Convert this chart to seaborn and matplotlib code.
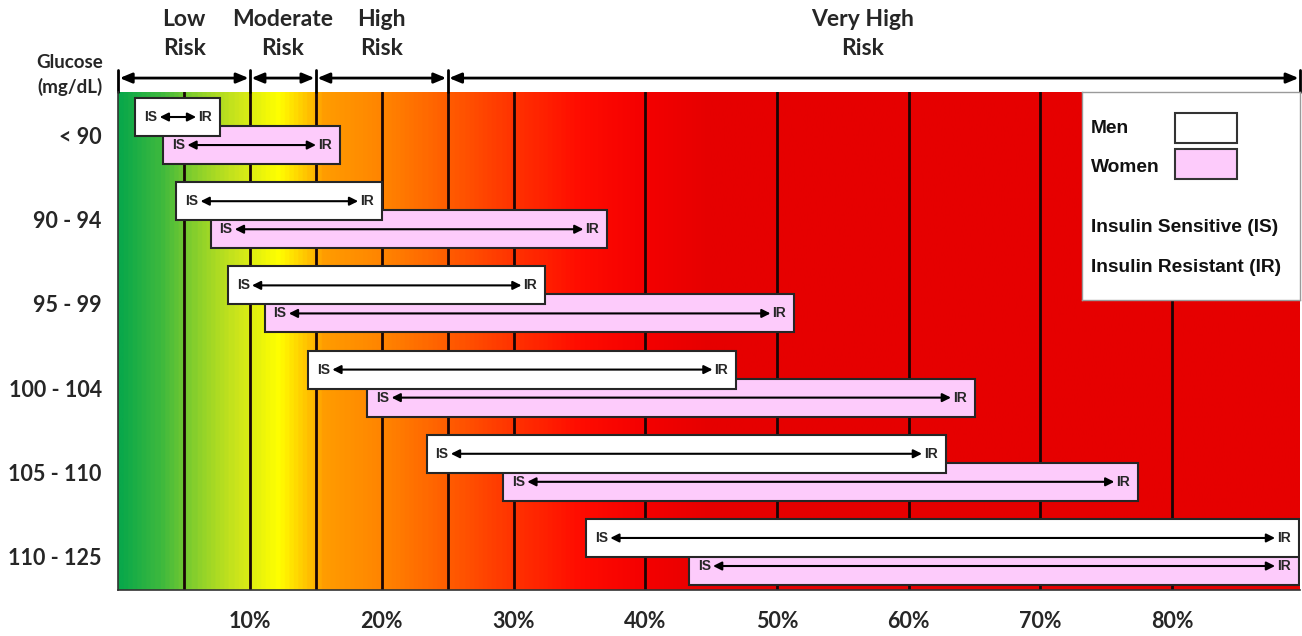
import numpy as np
import pandas as pd
import matplotlib
matplotlib.use("Agg")
import matplotlib.pyplot as plt
import seaborn as sns
from matplotlib.colors import LinearSegmentedColormap
from matplotlib.patches import Rectangle
import matplotlib.transforms as mtransforms

# ---------------- data ----------------
glucose_labels = ["< 90", "90 - 94", "95 - 99", "100 - 104", "105 - 110", "110 - 125"]
men_is = [1.3, 4.4, 8.3, 14.4, 23.4, 35.5]
men_ir = [7.7, 20.0, 32.4, 46.9, 62.8, 89.6]
women_is = [3.4, 7.0, 11.1, 18.9, 29.2, 43.3]
women_ir = [16.8, 37.1, 51.3, 65.0, 77.4, 89.6]

risk_labels = ["Low\nRisk", "Moderate\nRisk", "High\nRisk", "Very High\nRisk"]
risk_bounds = [0, 10, 15, 25, 89.7]
risk_label_x = [5, 12.5, 20, 56.5]

grid_lines = [5, 10, 15, 20, 25, 30, 40, 50, 60, 70, 80]
x_ticks = [10, 20, 30, 40, 50, 60, 70, 80]
x_tick_labels = ["10%", "20%", "30%", "40%", "50%", "60%", "70%", "80%"]

# ---------------- style ----------------
sns.set_theme(style="white")
CAL = ["Lato", "DejaVu Sans"]
ARI = ["Liberation Sans", "DejaVu Sans"]
plt.rcParams["font.family"] = CAL

MEN_COLOR = "#ffffff"
WOMEN_COLOR = "#fdcbfb"
EDGE = "#262626"
TXT = "#262626"

rows = []
for i, g in enumerate(glucose_labels):
    rows.append(dict(group=g, sex="Women", pos=i + 0.333, start=women_is[i], end=women_ir[i]))
    rows.append(dict(group=g, sex="Men", pos=i, start=men_is[i], end=men_ir[i]))
df = pd.DataFrame(rows)
df["width"] = df["end"] - df["start"]

fig = plt.figure(figsize=(13.02, 6.36), dpi=100)
ax = fig.add_axes([118.3 / 1302, 46 / 636, (1300 - 118.3) / 1302, 498 / 636])

xmax = risk_bounds[-1]
ylim = (5.618, -0.297)
ax.set_xlim(0, xmax)
ax.set_ylim(*ylim)

# background gradient
stops = [(0, "#0aa84a"), (3, "#3cb83e"), (6, "#90d22a"), (9, "#cfe61a"),
         (12, "#ffff00"), (14.2, "#ffc400"), (15.5, "#ff9c00"), (20, "#ff8400"),
         (25, "#ff5c00"), (30, "#ff3200"), (35, "#ff0c00"), (40, "#f40000"),
         (45, "#e60000"), (xmax, "#e60000")]
cmap = LinearSegmentedColormap.from_list("risk", [(s / xmax, c) for s, c in stops])
grad = np.linspace(0, 1, 800)[None, :]
ax.imshow(grad, cmap=cmap, aspect="auto", extent=[0, xmax, ylim[0], ylim[1]],
          zorder=0, interpolation="bilinear")

for g in grid_lines:
    ax.axvline(g, color="#1a0505", lw=2, zorder=1)

# bars (women first so men overlap them)
for _, r in df.iterrows():
    color = MEN_COLOR if r["sex"] == "Men" else WOMEN_COLOR
    z = 3 if r["sex"] == "Women" else 4
    ax.barh(r["pos"], r["width"], left=r["start"], height=0.45, color=color,
            edgecolor=EDGE, linewidth=1.5, zorder=z)
    ax.annotate("IS", xy=(r["start"], r["pos"]), xytext=(6.5, 0), textcoords="offset points",
                ha="left", va="center", fontsize=10, fontweight="bold", family=ARI,
                color=TXT, zorder=z + 0.5)
    ax.annotate("IR", xy=(r["end"], r["pos"]), xytext=(-5.8, 0), textcoords="offset points",
                ha="right", va="center", fontsize=10, fontweight="bold", family=ARI,
                color=TXT, zorder=z + 0.5)
    ax.annotate("", xy=(r["end"], r["pos"]), xytext=(r["start"], r["pos"]),
                arrowprops=dict(arrowstyle="<|-|>,head_length=0.5,head_width=0.25",
                                color="black", lw=1.5, shrinkA=17.5, shrinkB=17,
                                mutation_scale=10),
                zorder=z + 0.5)

# axes ticks
ax.set_xticks(x_ticks)
ax.set_xticklabels(x_tick_labels, fontsize=15.5, fontweight="bold", color=TXT)
ax.set_yticks([i + 0.22 for i in range(len(glucose_labels))])
ax.set_yticklabels(glucose_labels, fontsize=15.5, fontweight="bold", color=TXT)
ax.tick_params(axis="x", length=0, pad=15)
ax.tick_params(axis="y", length=0, pad=12)
for s in ["top", "right"]:
    ax.spines[s].set_visible(False)
for s in ["left", "bottom"]:
    ax.spines[s].set_color("#333333")
    ax.spines[s].set_linewidth(1.2)
    ax.spines[s].set_zorder(6)

# risk zone arrows above the plot
trans = mtransforms.blended_transform_factory(ax.transData, ax.transAxes)
for b in risk_bounds:
    ax.plot([b, b], [1.0, 1.045], transform=trans, clip_on=False, color="black", lw=2)
for a, b in zip(risk_bounds[:-1], risk_bounds[1:]):
    ax.annotate("", xy=(b, 1.028), xytext=(a, 1.028), xycoords=trans, textcoords=trans,
                arrowprops=dict(arrowstyle="<|-|>,head_length=0.6,head_width=0.25",
                                color="black", lw=2, shrinkA=1, shrinkB=1),
                annotation_clip=False)
for lbl, x in zip(risk_labels, risk_label_x):
    ax.text(x, 1.116, lbl, transform=trans, ha="center", va="center", fontsize=16.5,
            fontweight="bold", color=TXT, linespacing=1.5)

fig.text(70 / 1302, 1 - 75 / 636, "Glucose\n(mg/dL)", ha="center", va="center",
         fontsize=13.5, fontweight="bold", color=TXT, linespacing=1.45)

# legend box
lax = ax.inset_axes([0.8155, 0.582, 1 - 0.8155, 0.418])
lax.set_zorder(10)
lax.set_xlim(0, 1)
lax.set_ylim(0, 1)
lax.set_xticks([])
lax.set_yticks([])
lax.set_facecolor("white")
for s in lax.spines.values():
    s.set_color("#9a9a9a")
    s.set_linewidth(1)
fs = 13.8
lax.text(0.041, 0.827, "Men", ha="left", va="center", fontsize=fs, fontweight="bold", family=ARI, color="#111111")
lax.add_patch(Rectangle((0.428, 0.755), 0.285, 0.144, facecolor=MEN_COLOR, edgecolor="#333333", lw=1.5))
lax.text(0.041, 0.635, "Women", ha="left", va="center", fontsize=fs, fontweight="bold", family=ARI, color="#111111")
lax.add_patch(Rectangle((0.428, 0.582), 0.285, 0.144, facecolor=WOMEN_COLOR, edgecolor="#333333", lw=1.5))
lax.text(0.041, 0.351, "Insulin Sensitive (IS)", ha="left", va="center", fontsize=fs, fontweight="bold", family=ARI, color="#111111")
lax.text(0.041, 0.159, "Insulin Resistant (IR)", ha="left", va="center", fontsize=fs, fontweight="bold", family=ARI, color="#111111")

fig.savefig("out.png", dpi=100)
